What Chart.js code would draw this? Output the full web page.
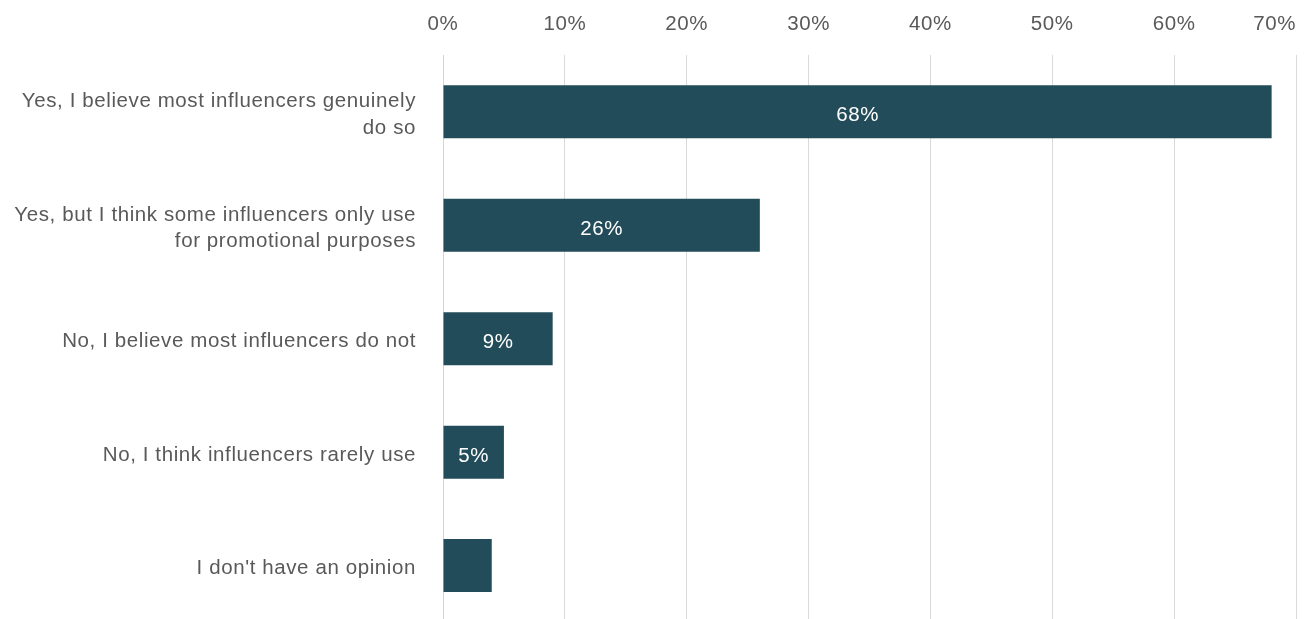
<!DOCTYPE html>
<html>
<head>
<meta charset="utf-8">
<title>Influencers</title>
<script src="https://cdn.jsdelivr.net/npm/chart.js@4.4.1/dist/chart.umd.min.js"></script>
<style>
  html, body { margin:0; padding:0; background:#fff; overflow:hidden; }
  #wrap { position:relative; width:1309px; height:676px; }
</style>
</head>
<body>
<div id="wrap"><canvas id="chart"></canvas></div>
<script>
// Answers (two-line ones are split where they wrap)
const categories = [
  ["Yes, I believe most influencers genuinely", "do so"],
  ["Yes, but I think some influencers only use", "for promotional purposes"],
  "No, I believe most influencers do not",
  "No, I think influencers rarely use",
  "I don't have an opinion"
];
// Share of respondents, %
const shares = [68, 26, 9, 5, 4];
// Top axis ticks, %
const xTicks = [0, 10, 20, 30, 40, 50, 60, 70];
// bars below this get no value label
const MIN_LABELLED = 5;

const BAR = '#234c5a';
const TEXT = '#595959';
const FONT = "'Liberation Sans', Arial, sans-serif";
const SIZE = 20.5;
const TRACK = '0.6px';

// a little tracking on all canvas text
const spacing = {
  id: 'spacing',
  beforeLayout(chart){ chart.ctx.letterSpacing = TRACK; },
  beforeDraw(chart){ chart.ctx.letterSpacing = TRACK; }
};

// percentage labels along the top; last one is pulled in so it stays on the page
const topTicks = {
  id: 'topTicks',
  afterDraw(chart){
    const ctx = chart.ctx, sc = chart.scales.x, area = chart.chartArea;
    ctx.save();
    ctx.letterSpacing = TRACK;
    ctx.font = SIZE + 'px ' + FONT;
    ctx.fillStyle = TEXT;
    ctx.textAlign = 'center';
    ctx.textBaseline = 'middle';
    xTicks.forEach(v => {
      const txt = v + '%';
      const w = ctx.measureText(txt).width;
      const x = Math.min(sc.getPixelForValue(v), area.right - w / 2);
      ctx.fillText(txt, x, 24);
    });
    ctx.restore();
  }
};

// value inside each bar, centred (sits a touch low, like the labels)
const barValues = {
  id: 'barValues',
  afterDatasetsDraw(chart){
    const ctx = chart.ctx;
    const meta = chart.getDatasetMeta(0);
    ctx.save();
    ctx.letterSpacing = TRACK;
    ctx.font = SIZE + 'px ' + FONT;
    ctx.fillStyle = '#ffffff';
    ctx.textAlign = 'center';
    ctx.textBaseline = 'middle';
    meta.data.forEach((bar, i) => {
      const v = shares[i];
      if (v < MIN_LABELLED) return;
      ctx.fillText(v + '%', (bar.x + bar.base) / 2, bar.y + 4);
    });
    ctx.restore();
  }
};

new Chart(document.getElementById('chart'), {
  type: 'bar',
  data: {
    labels: categories,
    datasets: [{
      data: shares,
      backgroundColor: BAR,
      borderWidth: 0,
      barPercentage: 0.467,
      categoryPercentage: 1
    }]
  },
  options: {
    indexAxis: 'y',
    responsive: true,
    maintainAspectRatio: false,
    animation: false,
    events: [],
    layout: { padding: { top: 0, right: 13, bottom: 0, left: 0 } },
    plugins: { legend: { display: false }, tooltip: { enabled: false } },
    scales: {
      x: {
        position: 'top',
        min: 0,
        max: 70,
        ticks: { display: false, stepSize: 10 },
        grid: { color: '#d9d9d9', lineWidth: 1, drawTicks: false },
        border: { display: false },
        afterFit(scale){ scale.height = 55; }
      },
      y: {
        grid: { display: false, drawTicks: false },
        border: { display: true, color: '#cdd4e2', width: 1 },
        ticks: {
          color: TEXT,
          padding: 27,
          labelOffset: 3,
          font: { family: FONT, size: SIZE, lineHeight: 1.3 }
        },
        afterFit(scale){ scale.width = 443; }
      }
    }
  },
  plugins: [spacing, topTicks, barValues]
});
</script>
</body>
</html>
